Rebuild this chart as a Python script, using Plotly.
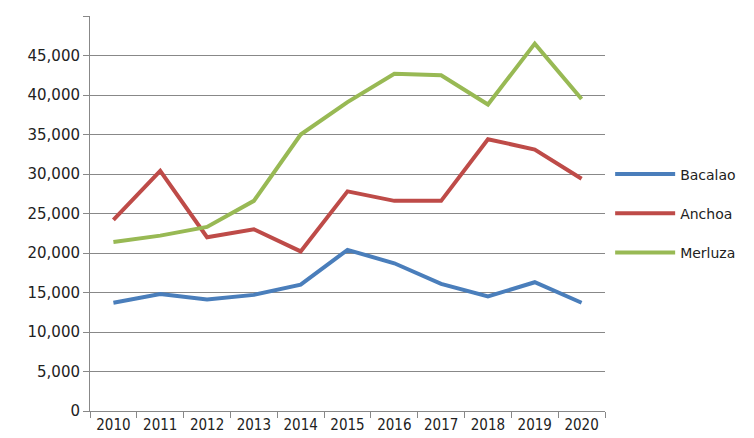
import plotly.graph_objects as go

years = [str(y) for y in range(2010, 2021)]
bacalao = [13700, 14800, 14100, 14700, 16000, 20400, 18700, 16100, 14500, 16300, 13700]
anchoa = [24200, 30400, 22000, 23000, 20200, 27800, 26600, 26600, 34400, 33100, 29400]
merluza = [21400, 22200, 23300, 26600, 35000, 39100, 42700, 42500, 38800, 46500, 39500]

fig = go.Figure()
fig.add_scatter(x=years, y=bacalao, mode="lines", name="Bacalao", legendgroup="a",
                line=dict(color="#4a7ebb", width=4))
fig.add_scatter(x=years, y=anchoa, mode="lines", name="Anchoa", legendgroup="b",
                line=dict(color="#be4b48", width=4))
fig.add_scatter(x=years, y=merluza, mode="lines", name="Merluza", legendgroup="c",
                line=dict(color="#98b954", width=4))

fig.update_layout(
    width=754, height=438,
    margin=dict(l=82, r=157, t=8, b=35),
    plot_bgcolor="white", paper_bgcolor="white",
    font=dict(family="DejaVu Sans", size=15, color="#222"),
    showlegend=True,
    legend=dict(x=1.01, y=0.5, yanchor="middle", font=dict(size=14),
                tracegroupgap=18, itemwidth=60),
)
fig.update_xaxes(type="category", range=[-0.5, 10.5], showgrid=False, showline=True,
                 linecolor="#888", ticks="outside", tickson="boundaries", ticklen=6,
                 tickcolor="#888", tickfont=dict(size=15, family="DejaVu Sans Condensed"))
fig.update_yaxes(range=[0, 50000], dtick=5000, tickformat=",d", showgrid=True,
                 gridcolor="#888", gridwidth=1, showline=True, linecolor="#888",
                 ticks="outside", ticklen=6, tickcolor="#888", zeroline=False,
                 tickfont=dict(size=15))
fig.write_html("out.html")
